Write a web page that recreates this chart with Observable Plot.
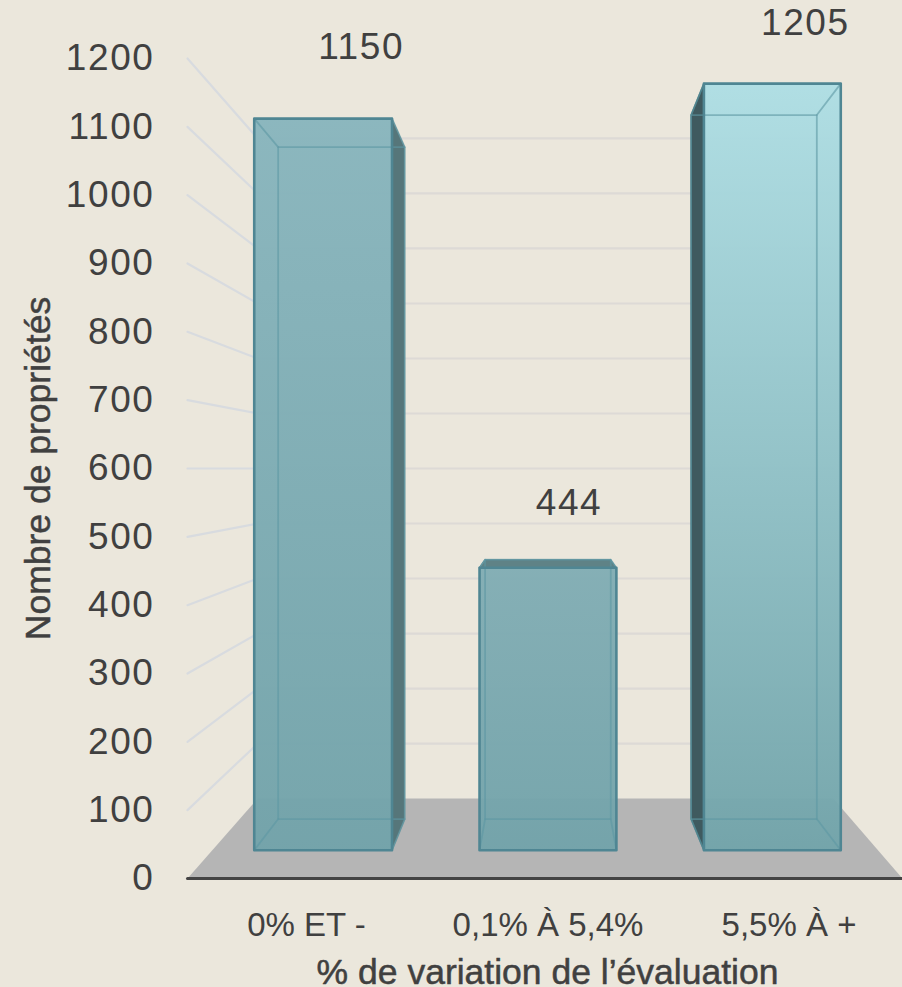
<!DOCTYPE html>
<html><head><meta charset="utf-8">
<script src="https://cdn.jsdelivr.net/npm/d3@7"></script>
<script src="https://cdn.jsdelivr.net/npm/@observablehq/plot@0.6"></script>
<style>html,body{margin:0;padding:0;background:#ebe7dc}svg{display:block}
.val{letter-spacing:1.6px}
g[aria-label="y-axis tick label"]{letter-spacing:1.6px}</style>
</head><body><div id="chart"></div>
<script>
const categories = ["0% ET -", "0,1% À 5,4%", "5,5% À +"];
const values = [1150, 444, 1205];
const valueLabels = ["1150", "444", "1205"];
const yTicks = [0,100,200,300,400,500,600,700,800,900,1000,1100,1200];
const barLeft = [-315, -73, 168];
const barRight = [-167, 74, 315];
const labelDx = [38, 21, 33];
const labelDy = [-71, -65, -60];
const gradientTop = ["#88b5bd", "#81adb4", "#aedee4"];
const gradientBottom = ["#72a3aa", "#72a3aa", "#72a4aa"];
const sideFill = ["#56767a", "#56767a", "#3f5a5f"];

// perspective of the 3-D chart: s = 1 at the axis plane, smaller going back
const S_FRONT = 1, S_BAR_FRONT = 0.931, S_BAR_BACK = 0.855, S_WALL = 0.805, HORIZON = 600;
const P = (wx, v, s) => ({x: wx * s, y: HORIZON + (v - HORIZON) * s});
const poly = pts => pts.map(([wx, v, s]) => P(wx, v, s));
const face = (pts, o) => Plot.line(poly(pts), {x: "x", y: "y", curve: "linear-closed", ...o});
const seg = (a, b, o) => Plot.line(poly([a, b]), {x: "x", y: "y", ...o});
const WL = -360, WR = 355;
const centers = barLeft.map((l, i) => (l + barRight[i]) / 2);

const marks = [];
marks.push(() => {
  const defs = d3.create("svg:defs");
  categories.forEach((c, i) => {
    const g = defs.append("linearGradient").attr("id", "bar" + i).attr("x1", 0).attr("y1", 0).attr("x2", 0).attr("y2", 1);
    g.append("stop").attr("offset", 0).attr("stop-color", gradientTop[i]);
    g.append("stop").attr("offset", 1).attr("stop-color", gradientBottom[i]);
  });
  return defs.node();
});

// walls' grid lines
yTicks.filter(t => t > 0).forEach(t => {
  marks.push(seg([WL, t, S_FRONT], [WL, t, S_WALL], {stroke: "#d8dbdf", strokeWidth: 2.2}));
  marks.push(seg([WL, t, S_WALL], [WR, t, S_WALL], {stroke: "#dddad6", strokeWidth: 2.2}));
});
// floor
marks.push(face([[WL,0,S_FRONT],[WR,0,S_FRONT],[WR,0,S_WALL],[WL,0,S_WALL]], {fill: "#b5b5b5", stroke: "none"}));

// bars
values.forEach((v, i) => {
  const l = barLeft[i], r = barRight[i], F = S_BAR_FRONT, B = S_BAR_BACK;
  const inner = {stroke: "#5d97a3", strokeOpacity: 0.6, strokeWidth: 1.8};
  const edge = {stroke: "#4f8693", strokeWidth: 2.6};
  if (i === 0) marks.push(face([[r,0,F],[r,v,F],[r,v,B],[r,0,B]], {fill: sideFill[i], stroke: "#6f9298", strokeWidth: 1}));
  if (i === 2) marks.push(face([[l,0,F],[l,v,F],[l,v,B],[l,0,B]], {fill: sideFill[i], stroke: "#3f6a72", strokeWidth: 1.5}));
  if (i === 1) marks.push(face([[l,v,F],[r,v,F],[r,v,B],[l,v,B]], {fill: "#5f8286", stroke: "#5f8f98", strokeWidth: 1}));
  marks.push(face([[l,0,F],[r,0,F],[r,v,F],[l,v,F]], {fill: `url(#bar${i})`, fillOpacity: 0.96, stroke: "none"}));
  // hidden edges seen through the glass
  marks.push(face([[l,0,B],[r,0,B],[r,v,B],[l,v,B]], {fill: "none", ...inner}));
  [[l,0],[r,0],[l,v],[r,v]].forEach(([x, y]) => marks.push(seg([x,y,F],[x,y,B], inner)));
  marks.push(face([[l,0,F],[r,0,F],[r,v,F],[l,v,F]], {fill: "none", ...edge}));
  marks.push(Plot.text([valueLabels[i]], {
    text: d => d, x: () => P(centers[i], v, F).x, y: () => P(centers[i], v, F).y,
    dx: labelDx[i], dy: labelDy[i], fontSize: 37, fill: "#404040", className: "val"
  }));
});
// base line
marks.push(seg([WL,0,S_FRONT],[WR,0,S_FRONT], {stroke: "#444444", strokeWidth: 3}));

marks.push(Plot.axisY({ticks: yTicks, tickFormat: d => String(d), tickSize: 0, tickPadding: 33, label: null, fontSize: 37, fill: "#404040"}));
marks.push(Plot.axisX({ticks: centers, tickFormat: d => categories[centers.indexOf(d)], tickSize: 0, tickPadding: 34, label: null, fontSize: 33, fill: "#404040"}));
marks.push(Plot.text(["Nombre de propriétés"], {text: d => d, x: () => WL, y: () => HORIZON, dx: -149, rotate: -90, fontSize: 35.5, fill: "#404040", stroke: "#404040", strokeWidth: 0.5}));
marks.push(Plot.text(["% de variation de l’évaluation"], {text: d => d, x: () => 0, frameAnchor: "bottom", dy: 105, fontSize: 35.5, fill: "#404040", stroke: "#404040", strokeWidth: 0.5}));

const chart = Plot.plot({
  width: 902, height: 987,
  marginLeft: 187, marginRight: 0, marginTop: 58, marginBottom: 109,
  style: {background: "#ebe7dc", fontFamily: "'Liberation Sans', sans-serif"},
  x: {domain: [WL, WR]},
  y: {domain: [0, 1200]},
  marks
});
document.getElementById("chart").append(chart);
</script></body></html>
